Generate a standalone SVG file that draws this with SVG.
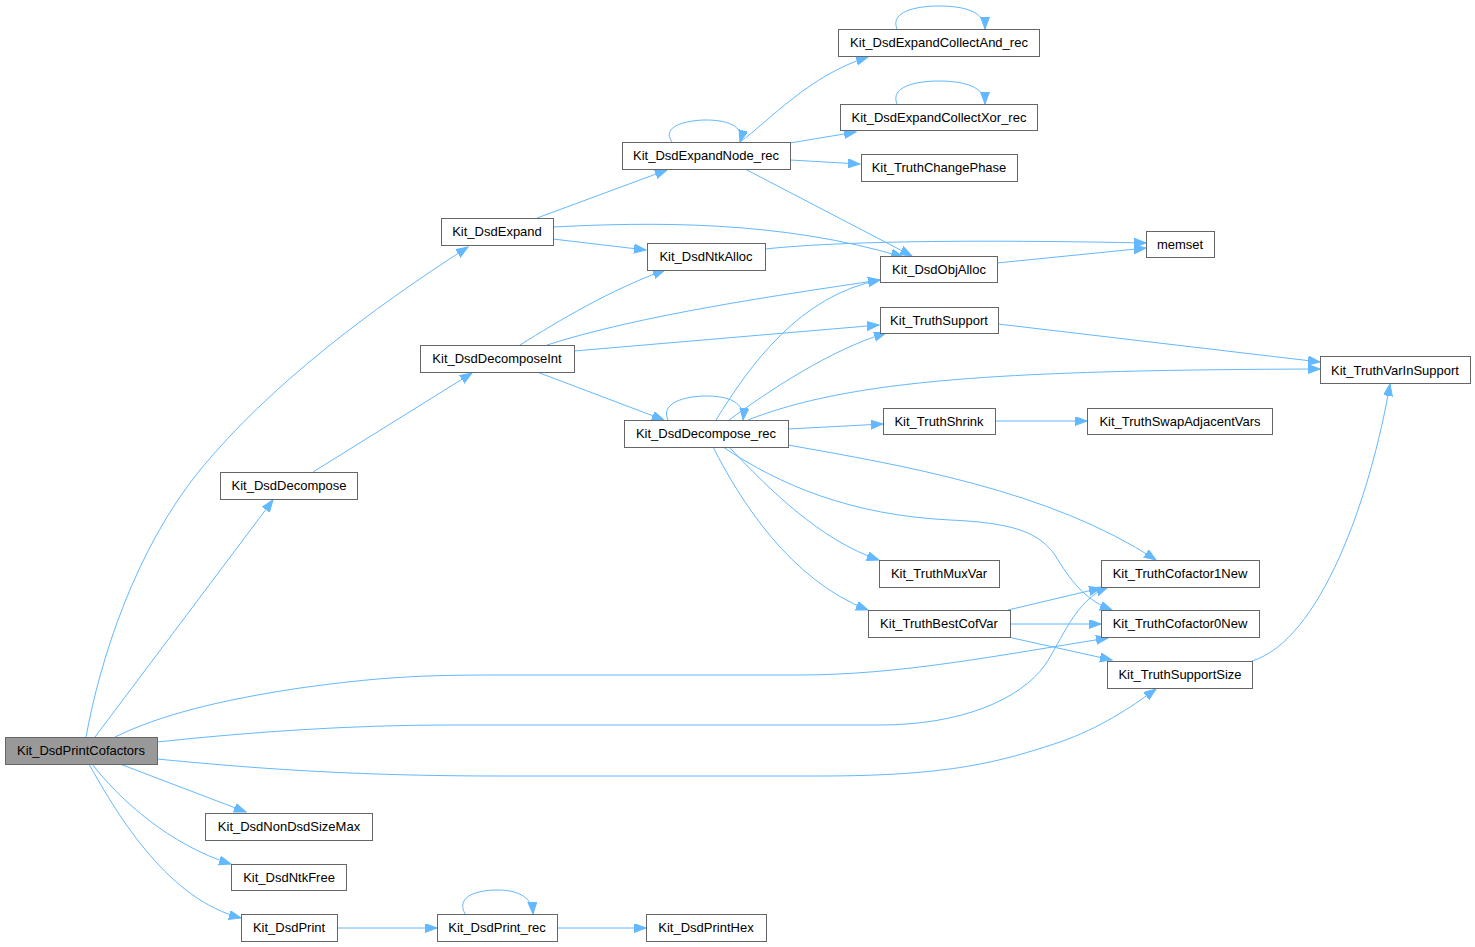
<svg xmlns="http://www.w3.org/2000/svg" width="1475" height="947" viewBox="0 0 1475 947">
<style>
.n rect{fill:#ffffff;stroke:#666666;stroke-width:1}
.n.root rect{fill:#999999}
.n text{font-family:"Liberation Sans",Arial,sans-serif;font-size:13px;fill:#000000;text-anchor:middle}
.e path{fill:none;stroke:#63b8ff;stroke-width:1;marker-end:url(#ah)}
</style>
<defs>
<marker id="ah" markerUnits="userSpaceOnUse" markerWidth="13" markerHeight="10" refX="12" refY="4.5" orient="auto">
<path d="M0,0 L12,4.5 L0,9 z" fill="#63b8ff" stroke="#63b8ff" stroke-width="1"/>
</marker>
</defs>
<rect width="1475" height="947" fill="#ffffff"/>
<g id="edges" class="e">
<path d="M86,737 C100,660 135,550 200,470 C270,385 370,310 468,247"/>
<path d="M95,737 L273,500"/>
<path d="M115,737 C160,715 220,700 300,688 C380,677 420,675 500,675 L800,675 C900,675 1000,655 1108,638"/>
<path d="M157,742 C250,732 350,725 450,725 L880,725 C960,725 1020,700 1045,665 C1062,640 1075,600 1108,587"/>
<path d="M157,759 C250,768 350,776 500,776 L820,776 C950,776 1000,762 1060,742 C1100,728 1130,708 1156,689"/>
<path d="M120,764 L246,812"/>
<path d="M92,764 C120,800 170,845 231,864"/>
<path d="M89,764 C120,820 170,900 241,918"/>
<path d="M337,928 L437,928"/>
<path d="M465,914 C455,895 480,890 497,890 C515,890 532,895 533,914"/>
<path d="M557,928 L646,928"/>
<path d="M313,472 L472,373"/>
<path d="M537,218 L667,170"/>
<path d="M553,239 L646,250"/>
<path d="M553,227 C650,222 780,220 903,257"/>
<path d="M745,169 L912,256"/>
<path d="M672,142 C660,125 690,120 706,120 C725,120 745,125 740,142"/>
<path d="M740,142 C770,120 810,75 868,57"/>
<path d="M790,143 L856,132"/>
<path d="M790,160 L860,164"/>
<path d="M897,29 C890,12 915,6 939,6 C965,6 985,12 985,29"/>
<path d="M897,104 C890,87 915,81 939,81 C965,81 985,87 985,104"/>
<path d="M765,249 C850,240 1000,240 1146,243"/>
<path d="M997,263 L1146,248"/>
<path d="M520,345 C560,320 610,290 665,270"/>
<path d="M547,345 C640,315 780,295 880,280"/>
<path d="M574,351 L879,325"/>
<path d="M537,372 L664,420"/>
<path d="M668,420 C660,403 685,396 706,396 C730,396 745,403 743,420"/>
<path d="M716,420 C750,365 800,295 880,280"/>
<path d="M729,420 C770,390 830,350 886,333"/>
<path d="M748,420 C850,380 1000,370 1320,369"/>
<path d="M998,324 L1320,362"/>
<path d="M788,429 L883,424"/>
<path d="M995,421 L1087,421"/>
<path d="M788,445 C900,465 1050,490 1156,560"/>
<path d="M723,447 C780,485 850,515 950,520 C1020,523 1040,535 1055,555 C1070,580 1085,600 1112,610"/>
<path d="M729,447 C770,490 820,540 879,560"/>
<path d="M713,447 C740,500 790,580 868,610"/>
<path d="M1008,610 L1101,588"/>
<path d="M1010,624 L1101,624"/>
<path d="M1008,637 L1112,660"/>
<path d="M1252,661 C1320,640 1370,500 1390,384"/>
</g>
<g id="n1" class="n root"><rect x="5.5" y="737.5" width="152" height="27"/><text x="81" y="755">Kit_DsdPrintCofactors</text></g>
<g id="n2" class="n"><rect x="441.5" y="218.5" width="112" height="27"/><text x="497" y="236">Kit_DsdExpand</text></g>
<g id="n3" class="n"><rect x="220.5" y="472.5" width="137" height="27"/><text x="289" y="490">Kit_DsdDecompose</text></g>
<g id="n4" class="n"><rect x="420.5" y="345.5" width="154" height="27"/><text x="497" y="363">Kit_DsdDecomposeInt</text></g>
<g id="n5" class="n"><rect x="622.5" y="142.5" width="168" height="27"/><text x="706" y="160">Kit_DsdExpandNode_rec</text></g>
<g id="n6" class="n"><rect x="838.5" y="29.5" width="201" height="27"/><text x="939" y="47">Kit_DsdExpandCollectAnd_rec</text></g>
<g id="n7" class="n"><rect x="840.5" y="104.5" width="197" height="26"/><text x="939" y="122">Kit_DsdExpandCollectXor_rec</text></g>
<g id="n8" class="n"><rect x="861.5" y="154.5" width="156" height="27"/><text x="939" y="172">Kit_TruthChangePhase</text></g>
<g id="n9" class="n"><rect x="1146.5" y="231.5" width="68" height="26"/><text x="1180" y="249">memset</text></g>
<g id="n10" class="n"><rect x="647.5" y="243.5" width="118" height="27"/><text x="706" y="261">Kit_DsdNtkAlloc</text></g>
<g id="n11" class="n"><rect x="880.5" y="256.5" width="117" height="26"/><text x="939" y="274">Kit_DsdObjAlloc</text></g>
<g id="n12" class="n"><rect x="880.5" y="307.5" width="118" height="26"/><text x="939" y="325">Kit_TruthSupport</text></g>
<g id="n13" class="n"><rect x="1320.5" y="356.5" width="150" height="27"/><text x="1395" y="375">Kit_TruthVarInSupport</text></g>
<g id="n14" class="n"><rect x="624.5" y="420.5" width="164" height="27"/><text x="706" y="438">Kit_DsdDecompose_rec</text></g>
<g id="n15" class="n"><rect x="883.5" y="408.5" width="112" height="26"/><text x="939" y="426">Kit_TruthShrink</text></g>
<g id="n16" class="n"><rect x="1087.5" y="408.5" width="185" height="26"/><text x="1180" y="426">Kit_TruthSwapAdjacentVars</text></g>
<g id="n17" class="n"><rect x="879.5" y="560.5" width="120" height="27"/><text x="939" y="578">Kit_TruthMuxVar</text></g>
<g id="n18" class="n"><rect x="1101.5" y="560.5" width="158" height="27"/><text x="1180" y="578">Kit_TruthCofactor1New</text></g>
<g id="n19" class="n"><rect x="868.5" y="610.5" width="142" height="27"/><text x="939" y="628">Kit_TruthBestCofVar</text></g>
<g id="n20" class="n"><rect x="1101.5" y="610.5" width="158" height="27"/><text x="1180" y="628">Kit_TruthCofactor0New</text></g>
<g id="n21" class="n"><rect x="1107.5" y="661.5" width="145" height="27"/><text x="1180" y="679">Kit_TruthSupportSize</text></g>
<g id="n22" class="n"><rect x="205.5" y="813.5" width="167" height="27"/><text x="289" y="831">Kit_DsdNonDsdSizeMax</text></g>
<g id="n23" class="n"><rect x="231.5" y="864.5" width="115" height="26"/><text x="289" y="882">Kit_DsdNtkFree</text></g>
<g id="n24" class="n"><rect x="241.5" y="914.5" width="96" height="27"/><text x="289" y="932">Kit_DsdPrint</text></g>
<g id="n25" class="n"><rect x="437.5" y="914.5" width="120" height="27"/><text x="497" y="932">Kit_DsdPrint_rec</text></g>
<g id="n26" class="n"><rect x="646.5" y="914.5" width="120" height="27"/><text x="706" y="932">Kit_DsdPrintHex</text></g>
</svg>
